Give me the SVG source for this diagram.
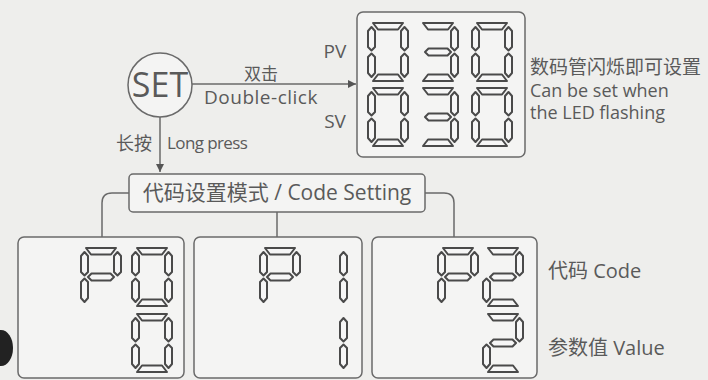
<svg xmlns="http://www.w3.org/2000/svg" xmlns:xlink="http://www.w3.org/1999/xlink" width="708" height="380" viewBox="0 0 708 380">
<style>
.bg{fill:#eeeeec}
.panel{fill:#f4f4f3;stroke:#6a6a6a;stroke-width:1.5}
.line{fill:none;stroke:#6a6a6a;stroke-width:1.5}
.seg{fill:#f6f6f6;stroke:#4a4a4a;stroke-width:2;stroke-linejoin:round}
.t{font-family:"Open Sans","Noto Sans CJK SC",sans-serif;fill:#5a5a5a}
.cjk{font-family:"Noto Sans CJK SC",sans-serif;fill:#5a5a5a}
</style>
<defs>
<marker id="arr" viewBox="0 0 10 10" refX="10" refY="5" markerWidth="8" markerHeight="8" markerUnits="userSpaceOnUse" orient="auto">
<path d="M0,0 L10,5 L0,10 z" fill="#555"/>
</marker>
<polygon id="sa" class="seg" points="6,1 36,1 31,7.5 11,7.5"/>
<polygon id="sd" class="seg" points="6,59 36,59 31,52.5 11,52.5"/>
<polygon id="sg" class="seg" points="8,30 11.5,26.5 30.5,26.5 34,30 30.5,33.5 11.5,33.5"/>
<polygon id="sf" class="seg" points="4.5,5 8,9 8,25 4.5,28.5 1,25 1,9"/>
<polygon id="sb" class="seg" points="37.5,5 41,9 41,25 37.5,28.5 34,25 34,9"/>
<polygon id="se" class="seg" points="4.5,31.5 8,35 8,51 4.5,55 1,51 1,35"/>
<polygon id="sc" class="seg" points="37.5,31.5 41,35 41,51 37.5,55 34,51 34,35"/>
<g id="d0"><use href="#sa"/><use href="#sb"/><use href="#sc"/><use href="#sd"/><use href="#se"/><use href="#sf"/></g>
<g id="d3"><use href="#sa"/><use href="#sb"/><use href="#sc"/><use href="#sd"/><use href="#sg"/></g>
<g id="d1"><use href="#sb"/><use href="#sc"/></g>
<g id="d2"><use href="#sa"/><use href="#sb"/><use href="#sg"/><use href="#se"/><use href="#sd"/></g>
<g id="dP"><use href="#sa"/><use href="#sb"/><use href="#sg"/><use href="#se"/><use href="#sf"/></g>
</defs>
<rect class="bg" x="0" y="0" width="708" height="380"/>
<ellipse cx="1" cy="348" rx="12" ry="18" fill="#222"/>

<g id="connectors">
<line class="line" x1="192" y1="84" x2="356" y2="84" marker-end="url(#arr)"/>
<line class="line" x1="160" y1="117" x2="160" y2="172" marker-end="url(#arr)"/>
<path class="line" d="M129,193 H112 Q102,193 102,203 V237"/>
<line class="line" x1="277" y1="212" x2="277" y2="237"/>
<path class="line" d="M425,193 H444 Q454,193 454,203 V237"/>
<text class="cjk" x="261" y="80" font-size="17" text-anchor="middle">双击</text>
<text class="t" x="261" y="104" font-size="19" text-anchor="middle" letter-spacing="0.5">Double-click</text>
<text class="cjk" x="134" y="150" font-size="18" text-anchor="middle">长按</text>
<text class="t" x="167" y="149" font-size="17" letter-spacing="-0.6">Long press</text>
</g>

<g id="set">
<circle cx="160" cy="85" r="32" fill="#f4f4f3" stroke="#6a6a6a" stroke-width="1.5"/>
<text class="t" x="160" y="97" font-size="34" text-anchor="middle">SET</text>
</g>

<g id="display">
<text class="t" x="335" y="58" font-size="19" text-anchor="middle">PV</text>
<text class="t" x="335" y="128" font-size="19" text-anchor="middle">SV</text>
<rect class="panel" x="357" y="12" width="168" height="145" rx="6"/>
<use href="#d0" x="367" y="22"/>
<use href="#d3" x="417" y="22"/>
<use href="#d0" x="471" y="22"/>
<use href="#d0" x="367" y="87"/>
<use href="#d3" x="417" y="87"/>
<use href="#d0" x="471" y="87"/>
<text class="cjk" x="530" y="74" font-size="19">数码管闪烁即可设置</text>
<text class="t" x="530" y="97" font-size="18">Can be set when</text>
<text class="t" x="530" y="119" font-size="18">the LED flashing</text>
</g>

<g id="mode">
<rect class="panel" x="129" y="174" width="296" height="38" rx="4"/>
<text x="277" y="200" font-size="21" text-anchor="middle"><tspan class="cjk">代码设置模式</tspan><tspan class="t"> / Code Setting</tspan></text>
</g>

<g id="p0">
<rect class="panel" x="18" y="237" width="166" height="141" rx="6"/>
<use href="#dP" x="80" y="247"/>
<use href="#d0" x="131" y="247"/>
<use href="#d0" x="131" y="313"/>
</g>

<g id="p1">
<rect class="panel" x="194" y="237" width="168" height="141" rx="6"/>
<use href="#dP" x="259" y="247"/>
<use href="#d1" x="306" y="247"/>
<use href="#d1" x="306" y="313"/>
</g>

<g id="p2">
<rect class="panel" x="372" y="237" width="165" height="141" rx="6"/>
<use href="#dP" x="437" y="247"/>
<use href="#d2" x="482" y="247"/>
<use href="#d2" x="482" y="313"/>
<text x="548" y="278" font-size="20"><tspan class="cjk">代码</tspan><tspan class="t"> Code</tspan></text>
<text x="548" y="355" font-size="20"><tspan class="cjk">参数值</tspan><tspan class="t"> Value</tspan></text>
</g>
</svg>
